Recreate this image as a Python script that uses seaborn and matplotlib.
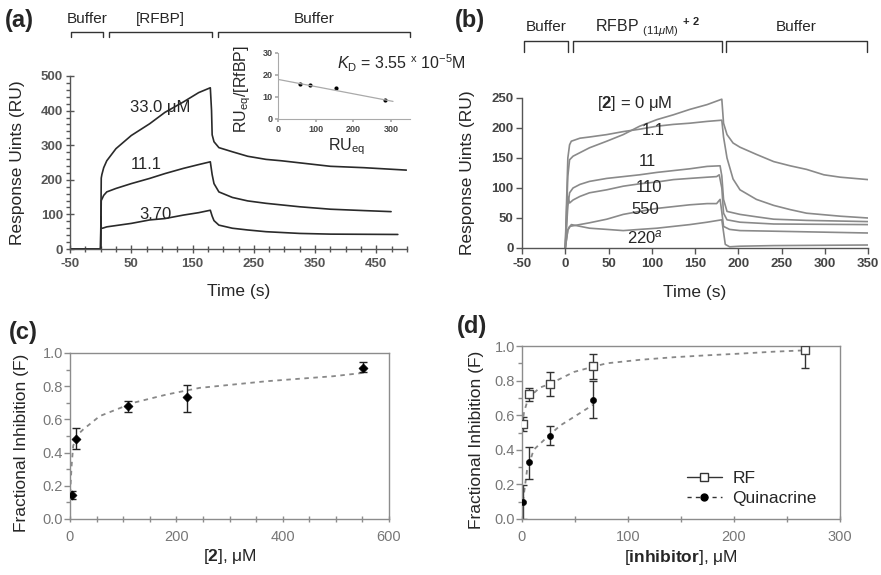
import numpy as np
import pandas as pd
import seaborn as sns
import matplotlib.pyplot as plt
from matplotlib.lines import Line2D
from matplotlib.ticker import MultipleLocator, FormatStrFormatter
from matplotlib.transforms import blended_transform_factory

# ---- panel (a): sensorgrams, [RFBP] series ----
a_labels = ["33.0 \u03bcM", "11.1", "3.70"]
a_t_33 = [-50, -2, 0, 1, 2, 5, 10, 25, 50, 80, 105, 135, 160, 179, 181, 182, 185, 193, 215, 240, 270, 295, 325, 375, 430, 499]
a_ru_33 = [0, 0, 2, 205, 215, 235, 255, 290, 328, 362, 395, 425, 452, 466, 400, 330, 310, 293, 281, 268, 259, 255, 249, 239, 235, 228]
a_t_11 = [-50, -2, 0, 1, 5, 10, 25, 50, 80, 105, 135, 160, 179, 182, 185, 193, 215, 240, 270, 325, 375, 430, 474]
a_ru_11 = [0, 0, 2, 140, 155, 165, 175, 189, 204, 218, 233, 244, 252, 215, 189, 165, 149, 139, 132, 122, 115, 111, 108]
a_t_37 = [-50, -2, 0, 0.5, 1, 3, 10, 50, 80, 105, 135, 160, 179, 182, 185, 193, 215, 240, 270, 325, 375, 485]
a_ru_37 = [0, 0, 2, 93, 60, 60, 64, 74, 84, 88, 98, 105, 112, 95, 82, 69, 60, 55, 50, 45, 43, 42]
a_label_pos = [(98, 410), (75, 245), (89, 101)]
a_phases = [(-49, 4), (13, 182), (192, 505)]
a_phase_names = ["Buffer", "[RFBP]", "Buffer"]

# inset: Scatchard plot
sc_x = [58, 85, 155, 285]
sc_y = [16, 15.5, 14, 8.5]
sc_fit_x = [0, 305]
sc_fit_y = [18, 8]

# ---- panel (b): sensorgrams, RFBP + compound 2 ----
b_labels = ["[$\\mathbf{2}$] = 0 \u03bcM", "1.1", "11", "110", "550", "220$^{a}$"]
b_t_0 = [0, 3, 5, 9, 28, 48, 67, 86, 106, 125, 144, 164, 181, 183, 187, 194, 202, 221, 241, 260, 279, 299, 318, 350]
b_ru_0 = [0, 120, 147, 153, 167, 178, 189, 203, 214, 222, 231, 239, 248, 208, 189, 175, 168, 156, 144, 137, 131, 122, 118, 114]
b_t_1 = [0, 3, 5, 7, 17, 28, 48, 67, 86, 106, 125, 144, 164, 181, 183, 187, 194, 202, 221, 241, 260, 279, 318, 350]
b_ru_1 = [0, 150, 172, 178, 183, 185, 189, 194, 198, 203, 206, 208, 211, 213, 185, 150, 115, 97, 81, 71, 64, 58, 53, 50]
b_t_11 = [0, 3, 5, 9, 17, 28, 48, 67, 86, 106, 125, 144, 164, 179, 181, 183, 187, 202, 221, 241, 279, 350]
b_ru_11 = [0, 70, 92, 100, 106, 111, 116, 119, 122, 126, 129, 132, 136, 137, 120, 81, 61, 56, 52, 48, 46, 44]
b_t_110 = [0, 3, 5, 9, 17, 28, 48, 67, 86, 106, 125, 144, 164, 175, 178, 181, 183, 187, 202, 241, 350]
b_ru_110 = [0, 86, 75, 80, 86, 92, 97, 103, 107, 110, 114, 116, 118, 119, 122, 100, 58, 47, 43, 40, 39]
b_t_550 = [0, 3, 5, 9, 28, 48, 67, 86, 106, 125, 144, 164, 175, 179, 181, 183, 190, 202, 241, 350]
b_ru_550 = [0, 30, 36, 37, 42, 48, 56, 61, 66, 69, 72, 74, 74, 81, 60, 36, 31, 29, 28, 25]
b_t_220 = [0, 3, 7, 28, 48, 67, 86, 106, 125, 144, 164, 181, 185, 190, 202, 241, 350]
b_ru_220 = [0, 30, 39, 33, 31, 29, 31, 33, 36, 39, 43, 47, 6, 2, 3, 4, 5]
b_label_pos = [(80, 240), (102, 195), (95, 145), (97, 101), (92, 65), (92, 17)]
b_phases = [(-48, 3.5), (9, 181), (186, 349)]

# ---- panel (c): inhibition by 2 ----
c_x = [3, 11, 110, 221, 551]
c_y = [0.145, 0.48, 0.68, 0.735, 0.91]
c_err_lo = [0.025, 0.06, 0.035, 0.09, 0.025]
c_err_hi = [0.025, 0.07, 0.03, 0.075, 0.035]
c_fit_x = [0, 1, 3, 6, 12, 25, 56, 119, 182, 244, 307, 370, 432, 495, 551]
c_fit_y = [0.1, 0.2, 0.32, 0.44, 0.5, 0.54, 0.62, 0.70, 0.75, 0.79, 0.81, 0.83, 0.845, 0.86, 0.88]

# ---- panel (d): RF vs quinacrine ----
rf_x = [1.3, 6.3, 26, 67, 267]
rf_y = [0.55, 0.72, 0.78, 0.885, 0.975]
rf_err_lo = [0.04, 0.04, 0.07, 0.075, 0.105]
rf_err_hi = [0.04, 0.035, 0.07, 0.07, 0.035]
rf_fit_x = [0, 2, 6, 17, 26, 49, 67, 80, 111, 143, 174, 206, 237, 267]
rf_fit_y = [0.54, 0.62, 0.7, 0.76, 0.78, 0.85, 0.88, 0.9, 0.92, 0.935, 0.946, 0.956, 0.967, 0.975]
q_x = [1.3, 6.3, 26, 67]
q_y = [0.096, 0.327, 0.48, 0.69]
q_err_lo = [0.096, 0.097, 0.055, 0.105]
q_err_hi = [0.10, 0.088, 0.055, 0.105]
q_fit_x = [0, 1.3, 4.7, 11, 24, 36, 49, 67]
q_fit_y = [0.05, 0.12, 0.28, 0.40, 0.475, 0.54, 0.59, 0.66]

sns.set_theme(style="ticks")
plt.rcParams["font.family"] = ["Liberation Sans", "DejaVu Sans"]
plt.rcParams["mathtext.fontset"] = "custom"
plt.rcParams["mathtext.rm"] = "Liberation Sans"
plt.rcParams["mathtext.it"] = "Liberation Sans:italic"
plt.rcParams["mathtext.bf"] = "Liberation Sans:bold"
plt.rcParams["axes.unicode_minus"] = False

fig = plt.figure(figsize=(8.81, 5.75), dpi=100)
W, H = 881, 575


def add_ax(left, top, right, bottom):
    return fig.add_axes([left / W, 1 - bottom / H, (right - left) / W, (bottom - top) / H])


def draw_curves(ax, series, color, lw):
    rows = []
    for name, (t, ru) in series.items():
        rows += [{"curve": name, "t": a, "ru": b} for a, b in zip(t, ru)]
    df = pd.DataFrame(rows)
    sns.lineplot(data=df, x="t", y="ru", units="curve", estimator=None, sort=False,
                 color=color, lw=lw, ax=ax, legend=False)


def style_sensor_axes(ax, tickcolor):
    for s in ["top", "right"]:
        ax.spines[s].set_visible(False)
    for s in ["left", "bottom"]:
        ax.spines[s].set_color("#555555")
        ax.spines[s].set_linewidth(1.0)
    ax.tick_params(which="both", colors="#555555", labelcolor=tickcolor, labelsize=9.5)
    for lab in ax.get_xticklabels() + ax.get_yticklabels():
        lab.set_fontweight("bold")


def brackets(ax, phases, names, y_line, y_drop, y_text, fs=11):
    tr = blended_transform_factory(ax.transData, fig.transFigure)
    for (x0, x1), nm in zip(phases, names):
        ax.plot([x0, x0, x1, x1], [y_drop, y_line, y_line, y_drop], color="#333333", lw=1.0,
                transform=tr, clip_on=False)
        if nm:
            ax.text((x0 + x1) / 2, y_text, nm, transform=tr, ha="center", va="center", fontsize=fs)


# ---------------- (a) ----------------
ax_a = add_ax(70, 76, 407, 249)
draw_curves(ax_a, {"33": (a_t_33, a_ru_33), "11": (a_t_11, a_ru_11), "3.7": (a_t_37, a_ru_37)},
            "#2a2a2a", 1.2)
ax_a.set_xlim(-50, 500)
ax_a.set_ylim(0, 500)
ax_a.set_xticks([-50, 50, 150, 250, 350, 450])
ax_a.xaxis.set_minor_locator(MultipleLocator(25))
ax_a.yaxis.set_major_locator(MultipleLocator(100))
ax_a.yaxis.set_minor_locator(MultipleLocator(20))
ax_a.tick_params(axis="x", which="major", direction="inout", length=6, width=1)
ax_a.tick_params(axis="x", which="minor", direction="inout", length=4, width=1)
ax_a.tick_params(axis="y", which="major", direction="inout", length=6, width=1, pad=2)
ax_a.tick_params(axis="y", which="minor", direction="out", length=3, width=1)
ax_a.set_xlabel("Time (s)", fontsize=12.5)
ax_a.set_ylabel("Response Uints (RU)", fontsize=12.5)
ax_a.xaxis.set_label_coords(0.5, -0.205)
ax_a.yaxis.set_label_coords(-0.135, 0.5)
style_sensor_axes(ax_a, "#555555")
for lab, (tx, ty) in zip(a_labels, a_label_pos):
    ax_a.text(tx, ty, lab, ha="center", va="center", fontsize=12)
brackets(ax_a, a_phases, a_phase_names, 1 - 32 / H, 1 - 37 / H, 1 - 19 / H)

# inset
ax_in = add_ax(278, 53, 410, 119)
sns.lineplot(x=sc_fit_x, y=sc_fit_y, ax=ax_in, color="#aaaaaa", lw=0.9)
sns.scatterplot(x=sc_x, y=sc_y, ax=ax_in, color="black", s=9, edgecolor="black", linewidth=0)
ax_in.set_xlim(0, 350)
ax_in.set_ylim(0, 30)
ax_in.set_xticks([0, 100, 200, 300])
ax_in.set_yticks([0, 10, 20, 30])
for s in ["top", "right"]:
    ax_in.spines[s].set_visible(False)
for s in ["left", "bottom"]:
    ax_in.spines[s].set_color("#aaaaaa")
    ax_in.spines[s].set_linewidth(0.8)
ax_in.tick_params(which="both", colors="#aaaaaa", labelcolor="#444444", labelsize=6.5, length=2, pad=2)
for lab in ax_in.get_xticklabels() + ax_in.get_yticklabels():
    lab.set_fontweight("bold")
ax_in.set_ylabel("RU$_{\\mathrm{eq}}$/[RfBP]", fontsize=11.5)
ax_in.set_xlabel("RU$_{\\mathrm{eq}}$", fontsize=11.5)
ax_in.yaxis.set_label_coords(-0.19, 0.45)
ax_in.xaxis.set_label_coords(0.52, -0.27)
ax_in.text(0.45, 0.85, "$K_{\\mathrm{D}}$ = 3.55 $^{\\mathrm{x}}$ 10$^{-5}$M", transform=ax_in.transAxes,
           fontsize=11.5, ha="left", va="center")
ax_in.patch.set_alpha(0)

# ---------------- (b) ----------------
ax_b = add_ax(522, 98, 868, 248)
draw_curves(ax_b, {"0": (b_t_0, b_ru_0), "1.1": (b_t_1, b_ru_1), "11": (b_t_11, b_ru_11),
                   "110": (b_t_110, b_ru_110), "550": (b_t_550, b_ru_550), "220": (b_t_220, b_ru_220)},
            "#8a8a8a", 1.2)
ax_b.set_xlim(-50, 350)
ax_b.set_ylim(0, 250)
ax_b.xaxis.set_major_locator(MultipleLocator(50))
ax_b.yaxis.set_major_locator(MultipleLocator(50))
ax_b.tick_params(axis="x", direction="out", length=4, width=1)
ax_b.tick_params(axis="y", direction="out", length=4, width=1, pad=2)
ax_b.set_xlabel("Time (s)", fontsize=12.5)
ax_b.set_ylabel("Response Uints (RU)", fontsize=12.5)
ax_b.xaxis.set_label_coords(0.5, -0.245)
ax_b.yaxis.set_label_coords(-0.135, 0.5)
style_sensor_axes(ax_b, "#444444")
for lab, (tx, ty) in zip(b_labels, b_label_pos):
    ax_b.text(tx, ty, lab, ha="center", va="center", fontsize=12)
brackets(ax_b, b_phases, ["Buffer", "", "Buffer"], 1 - 41 / H, 1 - 52 / H, 1 - 27 / H)
tr_b = blended_transform_factory(ax_b.transData, fig.transFigure)
ax_b.text(95, 1 - 27 / H, "RFBP $_{(11\\mu\\mathrm{M})}$ $^{\\mathbf{+\\ 2}}$", transform=tr_b,
          ha="center", va="center", fontsize=11.5)


def style_box_axes(ax):
    for s in ax.spines.values():
        s.set_color("#8c8c8c")
        s.set_linewidth(1.0)
    ax.tick_params(which="both", colors="#8c8c8c", labelcolor="#777777", labelsize=10.5)
    ax.tick_params(axis="y", which="major", direction="out", length=4, width=1, pad=1)
    ax.tick_params(axis="y", which="minor", direction="out", length=3, width=1)
    ax.tick_params(axis="x", which="both", direction="inout", length=4, width=1, pad=6)
    ax.yaxis.set_major_locator(MultipleLocator(0.2))
    ax.yaxis.set_minor_locator(MultipleLocator(0.1))
    ax.yaxis.set_major_formatter(FormatStrFormatter("%.1f"))
    ax.set_ylim(0, 1.0)


# ---------------- (c) ----------------
ax_c = add_ax(70, 353, 389, 519)
sns.lineplot(x=c_fit_x, y=c_fit_y, ax=ax_c, color="#888888", lw=1.3, linestyle=(0, (2.5, 2.5)))
ax_c.errorbar(c_x, c_y, yerr=[c_err_lo, c_err_hi], fmt="none", ecolor="#222222", elinewidth=1,
              capsize=3, capthick=1)
sns.scatterplot(x=c_x, y=c_y, ax=ax_c, marker="D", s=22, color="black", edgecolor="black", zorder=5)
ax_c.set_xlim(0, 600)
ax_c.xaxis.set_major_locator(MultipleLocator(200))
ax_c.xaxis.set_minor_locator(MultipleLocator(50))
style_box_axes(ax_c)
ax_c.set_xlabel("[$\\mathbf{2}$], \u03bcM", fontsize=12.5)
ax_c.set_ylabel("Fractional Inhibition (F)", fontsize=12.5)
ax_c.xaxis.set_label_coords(0.5, -0.17)
ax_c.yaxis.set_label_coords(-0.13, 0.46)

# ---------------- (d) ----------------
ax_d = add_ax(522, 346, 840, 519)
sns.lineplot(x=rf_fit_x, y=rf_fit_y, ax=ax_d, color="#888888", lw=1.3, linestyle=(0, (2.5, 2.5)))
sns.lineplot(x=q_fit_x, y=q_fit_y, ax=ax_d, color="#888888", lw=1.3, linestyle=(0, (2.5, 2.5)))
ax_d.errorbar(rf_x, rf_y, yerr=[rf_err_lo, rf_err_hi], fmt="none", ecolor="#333333", elinewidth=1,
              capsize=3, capthick=1)
ax_d.errorbar(q_x, q_y, yerr=[q_err_lo, q_err_hi], fmt="none", ecolor="#333333", elinewidth=1,
              capsize=3, capthick=1)
sns.scatterplot(x=rf_x, y=rf_y, ax=ax_d, marker="s", s=26, facecolor="white", edgecolor="#444444",
                linewidth=1, zorder=5)
sns.scatterplot(x=q_x, y=q_y, ax=ax_d, marker="o", s=20, color="black", edgecolor="black", zorder=5)
ax_d.set_xlim(0, 300)
ax_d.xaxis.set_major_locator(MultipleLocator(100))
ax_d.xaxis.set_minor_locator(MultipleLocator(50))
style_box_axes(ax_d)
ax_d.set_xlabel("[$\\mathbf{inhibitor}$], \u03bcM", fontsize=12.5)
ax_d.set_ylabel("Fractional Inhibition (F)", fontsize=12.5)
ax_d.xaxis.set_label_coords(0.5, -0.165)
ax_d.yaxis.set_label_coords(-0.12, 0.46)
handles = [
    Line2D([], [], color="#333333", lw=1, marker="s", markersize=6, markerfacecolor="white",
           markeredgecolor="#333333"),
    Line2D([], [], color="#333333", lw=1, linestyle=(0, (3, 3)), marker="o", markersize=5,
           markerfacecolor="black", markeredgecolor="black"),
]
ax_d.legend(handles, ["RF", "Quinacrine"], frameon=False, fontsize=12.5, loc="upper left",
            bbox_to_anchor=(0.47, 0.37), handlelength=2.0, handletextpad=0.6, labelspacing=0.3)

# panel letters
for lab, (x, y) in zip(["(a)", "(b)", "(c)", "(d)"], [(5, 21), (455, 21), (9, 332), (457, 326)]):
    fig.text(x / W, 1 - y / H, lab, fontsize=17, fontweight="bold", ha="left", va="center")

fig.savefig("out.png", dpi=100)
